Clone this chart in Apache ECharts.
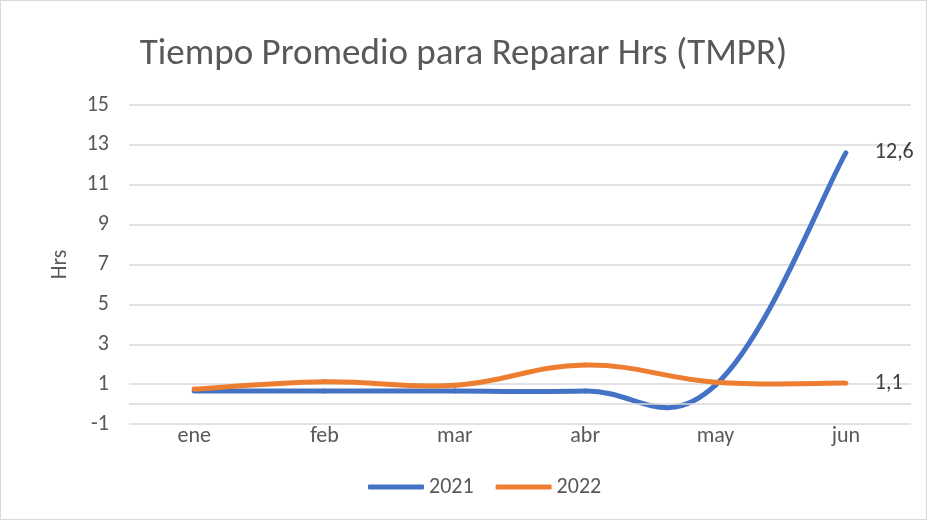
<!DOCTYPE html>
<html>
<head>
<meta charset="utf-8">
<script src="https://cdn.jsdelivr.net/npm/echarts@6/dist/echarts.min.js"></script>
<style>
  html, body { margin: 0; padding: 0; background: #fff; }
  #chart { width: 925px; height: 518px; border: 1px solid #d9d9d9; }
</style>
</head>
<body>
<div id="chart"></div>
<script>
  // valores
  var meses = ['ene', 'feb', 'mar', 'abr', 'may', 'jun']
  var datos2021 = [0.65, 0.65, 0.65, 0.65, 0.95, 12.6]
  var datos2022 = [0.75, 1.12, 0.94, 1.96, 1.1, 1.05]
  var etiquetas = { '2021': '12,6', '2022': '1,1' }

  var myChart = echarts.init(document.getElementById('chart'))
  var font = 'Carlito, "Open Sans", "Noto Sans", sans-serif'
  var TENSION = 0.2

  // curva suavizada tipo Excel (bezier por tramos), usando las escalas del grafico
  function serieSuave(nombre, valores, color, etiqueta, z) {
    return {
      name: nombre,
      type: 'custom',
      z: z,
      itemStyle: { color: color },
      encode: { x: 0, y: 1 },
      data: valores.map(function (v, i) { return [i, v] }),
      renderItem: function (params, api) {
        var i = params.dataIndex
        var n = valores.length
        var children = []
        var p = function (k) {
          k = Math.max(0, Math.min(n - 1, k))
          return api.coord([k, valores[k]])
        }
        if (i < n - 1) {
          var p0 = p(i - 1), p1 = p(i), p2 = p(i + 1), p3 = p(i + 2)
          children.push({
            type: 'bezierCurve',
            shape: {
              x1: p1[0], y1: p1[1],
              x2: p2[0], y2: p2[1],
              cpx1: p1[0] + (p2[0] - p0[0]) * TENSION,
              cpy1: p1[1] + (p2[1] - p0[1]) * TENSION,
              cpx2: p2[0] - (p3[0] - p1[0]) * TENSION,
              cpy2: p2[1] - (p3[1] - p1[1]) * TENSION
            },
            style: { stroke: color, lineWidth: 5, fill: null, lineCap: 'round' }
          })
        } else {
          var pt = p(i)
          children.push({
            type: 'text',
            x: pt[0] + 29,
            y: pt[1],
            style: {
              text: etiqueta, fill: '#404040', fontSize: 22, fontFamily: font,
              verticalAlign: 'middle', align: 'left'
            }
          })
        }
        return { type: 'group', children: children }
      }
    }
  }

  var option = {
    animation: false,
    title: {
      text: 'Tiempo Promedio para Reparar Hrs (TMPR)',
      left: 'center',
      top: 30,
      textStyle: { color: '#595959', fontSize: 37, fontWeight: 'normal', fontFamily: font }
    },
    legend: {
      bottom: 16,
      left: 362,
      itemWidth: 56,
      itemHeight: 5,
      itemGap: 22,
      icon: 'roundRect',
      textStyle: { color: '#595959', fontSize: 22, fontFamily: font },
      data: ['2021', '2022']
    },
    grid: { left: 128, right: 15, top: 104, bottom: 95, containLabel: false },
    xAxis: {
      type: 'category',
      data: meses,
      boundaryGap: true,
      axisLine: { show: false, onZero: false },
      axisTick: { show: false },
      axisLabel: { color: '#595959', fontSize: 22, fontFamily: font, margin: 1 }
    },
    yAxis: {
      type: 'value',
      min: -1, max: 15, interval: 2,
      name: 'Hrs',
      nameLocation: 'middle',
      nameGap: 58,
      nameRotate: 90,
      nameTextStyle: { color: '#595959', fontSize: 22, fontFamily: font },
      axisLabel: { color: '#595959', fontSize: 22, fontFamily: font, margin: 20 },
      splitLine: { lineStyle: { color: '#d9d9d9', width: 1.5 } },
      axisLine: { show: false },
      axisTick: { show: false }
    },
    series: [
      serieSuave('2021', datos2021, '#4472C4', etiquetas['2021'], 2),
      serieSuave('2022', datos2022, '#ED7D31', etiquetas['2022'], 3),
      {
        // linea del eje horizontal en cero
        name: 'cero',
        type: 'line',
        data: [],
        markLine: {
          silent: true,
          symbol: 'none',
          label: { show: false },
          lineStyle: { color: '#d9d9d9', width: 1.5, type: 'solid' },
          data: [{ yAxis: 0 }]
        },
        z: 1
      }
    ]
  }
  myChart.setOption(option)
  window.addEventListener('resize', function () {
    myChart.resize()
  })
</script>
</body>
</html>
